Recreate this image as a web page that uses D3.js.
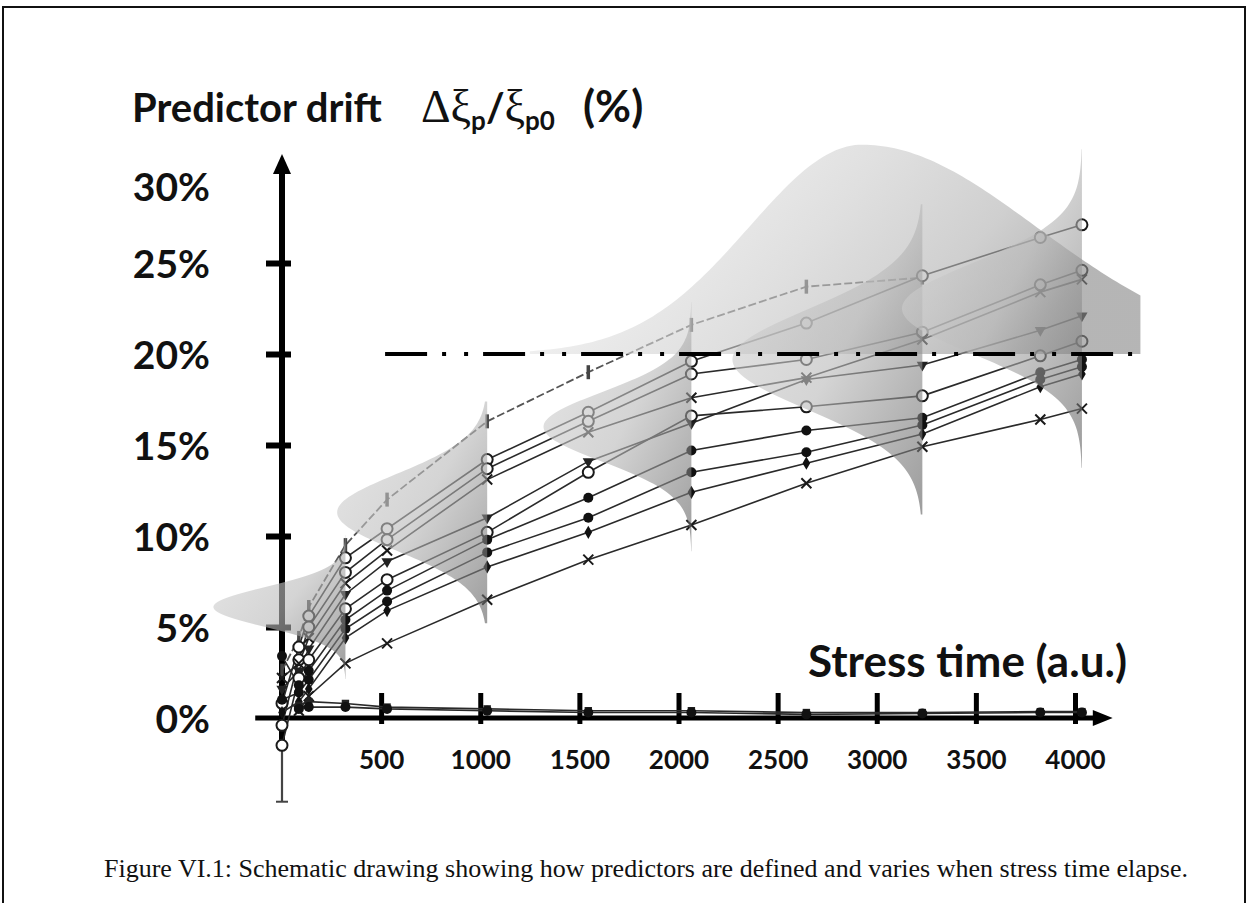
<!DOCTYPE html>
<html>
<head>
<meta charset="utf-8">
<script src="https://cdn.jsdelivr.net/npm/d3@7"></script>
<style>
  body { margin: 0; background: #fff; }
  svg { display: block; }
  .lbl { font-family: Lato, "Open Sans", sans-serif; font-weight: 700; fill: #111; }
  .greek { font-family: "Liberation Serif", "DejaVu Serif", serif; font-weight: 400; fill: #111; }
</style>
</head>
<body>
<div id="chart"></div>
<script>
var width = 1249, height = 903;

// stress times of the measurements (a.u.)
var times = [0, 85, 135, 320, 530, 1035, 1545, 2065, 2645, 3230, 3825, 4035];

// predictor drift (%) of each device, null = no point
var drift1  = [2.6, 4.4, 6.1, 9.5, 12.0, 16.3, 19.0, 21.6, 23.7, 24.2, null, null];
var drift2  = [0.8, 3.9, 5.6, 8.8, 10.4, 14.2, 16.8, 19.6, 21.7, 24.3, 26.4, 27.1];
var drift3  = [-0.4, 3.2, 5.0, 8.0, 9.8, 13.7, 16.3, 18.9, 19.7, 21.2, 23.8, 24.6];
var drift4  = [2.2, 3.0, 4.4, 7.4, 9.2, 13.1, 15.7, 17.6, 18.7, 20.8, 23.4, 24.1];
var drift5  = [1.6, 2.6, 3.8, 6.8, 8.6, 11.0, 14.1, 16.2, 18.6, 19.4, 21.3, 22.1];
var drift6  = [-1.5, 2.2, 3.2, 6.0, 7.6, 10.2, 13.5, 16.6, 17.1, 17.7, 19.9, 20.7];
var drift7  = [3.4, 1.8, 2.6, 5.4, 7.0, 9.8, 12.1, 14.7, 15.8, 16.5, 19.0, 19.7];
var drift8  = [1.0, 1.4, 2.1, 4.9, 6.4, 9.1, 11.0, 13.5, 14.6, 16.1, 18.6, 19.3];
var drift9  = [0.3, 0.9, 1.6, 4.4, 5.9, 8.3, 10.2, 12.4, 14.0, 15.6, 18.2, 18.9];
var drift10 = [null, 0.4, 1.2, 3.0, 4.1, 6.5, 8.7, 10.6, 12.9, 14.9, 16.4, 17.0];
var drift11 = [null, 0.7, 0.9, 0.8, 0.6, 0.5, 0.4, 0.4, 0.3, 0.3, 0.35, 0.35];
var drift12 = [null, 0.5, 0.6, 0.6, 0.5, 0.4, 0.3, 0.3, 0.2, 0.25, 0.3, 0.3];

var xTicks = [500, 1000, 1500, 2000, 2500, 3000, 3500, 4000];
var yTicks = [0, 5, 10, 15, 20, 25, 30];

// drift distributions sketched at some stress times
var bellTimes  = [320, 1035, 2065, 3230, 4035];
var bellMeans  = [6.1, 11.3, 16.0, 19.7, 22.5];
var bellSds    = [1.1, 2.1, 1.9, 2.75, 2.5];
var bellHeight = [666, 757, 746, 958, 908];   // peak length, in stress time units
var bellSpan   = [3.6, 2.9, 3.6, 3.1, 3.5];   // tails, in sd

// time-to-failure distribution on the 20% criterion
var failLimit = 20;
var failPeak = 2926, failHeight = 11.5, failSdLeft = 570, failSdRight = 880;
var failRange = [1250, 4330];

var series = [
  { values: drift1,  marker: "bar" },
  { values: drift2,  marker: "open" },
  { values: drift3,  marker: "open" },
  { values: drift4,  marker: "cross" },
  { values: drift5,  marker: "tri" },
  { values: drift6,  marker: "open" },
  { values: drift7,  marker: "filled" },
  { values: drift8,  marker: "filled" },
  { values: drift9,  marker: "diamond" },
  { values: drift10, marker: "cross" },
  { values: drift11, marker: "square" },
  { values: drift12, marker: "filled" }
];

var xScale = d3.scaleLinear().domain([0, 4000]).range([282, 1075]);
var yScale = d3.scaleLinear().domain([0, 30]).range([718, 172]);

var svg = d3.select("#chart").append("svg")
    .attr("width", width)
    .attr("height", height);

var defs = svg.append("defs");

var bellGrad = defs.append("linearGradient").attr("id", "bellGrad")
    .attr("x1", 0).attr("y1", 0.1).attr("x2", 1).attr("y2", 1);
bellGrad.append("stop").attr("offset", 0).attr("stop-color", "#d6d6d6");
bellGrad.append("stop").attr("offset", 0.5).attr("stop-color", "#bababa");
bellGrad.append("stop").attr("offset", 1).attr("stop-color", "#606060");

var humpGrad = defs.append("linearGradient").attr("id", "humpGrad")
    .attr("x1", 0).attr("y1", 0).attr("x2", 1).attr("y2", 0.3);
humpGrad.append("stop").attr("offset", 0).attr("stop-color", "#ffffff");
humpGrad.append("stop").attr("offset", 0.3).attr("stop-color", "#e2e2e2");
humpGrad.append("stop").attr("offset", 0.55).attr("stop-color", "#cccccc");
humpGrad.append("stop").attr("offset", 0.8).attr("stop-color", "#b2b2b2");
humpGrad.append("stop").attr("offset", 1).attr("stop-color", "#888888");

// frame
svg.append("path")
    .attr("d", "M3," + height + "V7H1245V" + height)
    .attr("fill", "none").attr("stroke", "#111").attr("stroke-width", 2);

// Axes
var y0 = yScale(0), x0 = xScale(0);

svg.append("line")
    .attr("x1", xScale(-135)).attr("x2", xScale(4100))
    .attr("y1", y0).attr("y2", y0)
    .attr("stroke", "#000").attr("stroke-width", 5);
svg.append("path")
    .attr("d", "M" + xScale(4090) + "," + (y0 - 8) + "L" + xScale(4190) + "," + y0 + "L" + xScale(4090) + "," + (y0 + 8) + "Z")
    .attr("fill", "#000");

svg.append("line")
    .attr("x1", x0).attr("x2", x0)
    .attr("y1", yScale(30) - 2).attr("y2", yScale(-1.6))
    .attr("stroke", "#000").attr("stroke-width", 6);
svg.append("line")
    .attr("x1", x0).attr("x2", x0)
    .attr("y1", yScale(-1.6)).attr("y2", yScale(-4.6))
    .attr("stroke", "#444").attr("stroke-width", 2.2);
svg.append("line")
    .attr("x1", x0 - 6).attr("x2", x0 + 6)
    .attr("y1", yScale(-4.6)).attr("y2", yScale(-4.6))
    .attr("stroke", "#444").attr("stroke-width", 2);
svg.append("path")
    .attr("d", "M" + (x0 - 9) + "," + (yScale(30) + 2) + "L" + x0 + "," + (yScale(30) - 18) + "L" + (x0 + 9) + "," + (yScale(30) + 2) + "Z")
    .attr("fill", "#000");

var xAxis = d3.axisBottom(xScale).tickValues(xTicks).tickSize(0).tickPadding(0)
    .tickFormat(d3.format("d"));
var gx = svg.append("g")
    .attr("transform", "translate(0," + y0 + ")")
    .call(xAxis);
gx.select(".domain").remove();
gx.selectAll(".tick line")
    .attr("y1", -25).attr("y2", 6)
    .attr("stroke", "#000").attr("stroke-width", 5);
gx.selectAll(".tick text")
    .attr("class", "lbl")
    .attr("y", 51).attr("dy", null)
    .style("font-size", "26px");

var yAxis = d3.axisLeft(yScale).tickValues(yTicks).tickSize(0).tickPadding(0)
    .tickFormat(function(d) { return d + "%"; });
var gy = svg.append("g")
    .attr("transform", "translate(" + x0 + ",0)")
    .call(yAxis);
gy.select(".domain").remove();
gy.selectAll(".tick line")
    .attr("x1", -16).attr("x2", 9)
    .attr("stroke", "#000").attr("stroke-width", 6)
    .style("display", function(d) { return d === 0 || d === 30 ? "none" : null; });
gy.selectAll(".tick text")
    .attr("class", "lbl")
    .attr("x", 210 - x0)
    .attr("dy", function(d) { return d === 30 ? "0.72em" : "0.36em"; })
    .style("font-size", "39px")
    .style("text-anchor", "end");

// Lines and markers
var line = d3.line()
    .defined(function(d) { return d.v !== null; })
    .x(function(d) { return xScale(d.t); })
    .y(function(d) { return yScale(d.v); });

series.forEach(function(s) {
  s.points = times.map(function(t, i) { return { t: t, v: s.values[i] }; });
});

svg.append("g").selectAll("path")
    .data(series)
    .enter().append("path")
    .attr("d", function(d) { return line(d.points); })
    .attr("fill", "none")
    .attr("stroke", function(d) { return d.marker === "bar" ? "#555" : "#2a2a2a"; })
    .attr("stroke-width", function(d) { return d.marker === "bar" ? 1.8 : 1.6; })
    .attr("stroke-dasharray", function(d) { return d.marker === "bar" ? "8,3" : null; });

var markers = svg.append("g");
series.forEach(function(s) {
  var pts = s.points.filter(function(p) { return p.v !== null; });
  var g = markers.selectAll(null).data(pts).enter().append("g")
      .attr("transform", function(p) { return "translate(" + xScale(p.t) + "," + yScale(p.v) + ")"; });
  if (s.marker === "open") {
    g.append("circle").attr("r", 5.5).attr("fill", "#fff").attr("stroke", "#1a1a1a").attr("stroke-width", 2);
  } else if (s.marker === "filled") {
    g.append("circle").attr("r", 5).attr("fill", "#111");
  } else if (s.marker === "cross") {
    g.append("path").attr("d", "M-5,-5L5,5M-5,5L5,-5").attr("stroke", "#1a1a1a").attr("stroke-width", 2);
  } else if (s.marker === "tri") {
    g.append("path").attr("d", d3.symbol(d3.symbolTriangle, 55)).attr("transform", "rotate(180)").attr("fill", "#222");
  } else if (s.marker === "diamond") {
    g.append("path").attr("d", d3.symbol(d3.symbolDiamond, 50)).attr("fill", "#111");
  } else if (s.marker === "square") {
    g.append("path").attr("d", d3.symbol(d3.symbolSquare, 55)).attr("fill", "#222");
  } else if (s.marker === "bar") {
    g.append("line").attr("y1", -7).attr("y2", 7).attr("stroke", "#444").attr("stroke-width", 3.5);
  }
});

// Distribution shapes, laid over the data like in the sketch
var shapes = svg.append("g").attr("fill-opacity", 0.62);

var hump = d3.range(failRange[0], failRange[1] + 1, 20).map(function(t) {
  var sd = t < failPeak ? failSdLeft : failSdRight;
  var z = (t - failPeak) / sd;
  return { t: t, h: failHeight * Math.exp(-z * z / 2) };
});
shapes.append("path")
    .attr("d", d3.area()
        .x(function(d) { return xScale(d.t); })
        .y0(yScale(failLimit))
        .y1(function(d) { return yScale(failLimit + d.h); })(hump))
    .attr("fill", "url(#humpGrad)");

var bellArea = d3.area()
    .y(function(d) { return yScale(d.v); })
    .x0(function(d) { return xScale(d.t); })
    .x1(function(d) { return xScale(d.t - d.len); });

bellTimes.forEach(function(bt, i) {
  var k = bellSpan[i];
  var pts = d3.range(-k, k + 0.001, 0.05).map(function(z) {
    return { t: bt, v: bellMeans[i] + z * bellSds[i], len: bellHeight[i] * Math.exp(-z * z / 2) };
  });
  shapes.append("path")
      .attr("d", bellArea(pts))
      .attr("fill", "url(#bellGrad)");
});

// 20% failure criterion
svg.append("line")
    .attr("x1", xScale(520)).attr("x2", xScale(4330))
    .attr("y1", yScale(failLimit)).attr("y2", yScale(failLimit))
    .attr("stroke", "#000").attr("stroke-width", 4)
    .attr("stroke-dasharray", "42,15,4,18,4,15");

// Titles
svg.append("text").attr("class", "lbl")
    .attr("x", 132).attr("y", 122)
    .style("font-size", "40px")
    .text("Predictor drift");

var f = svg.append("text").attr("x", 421).attr("y", 122).style("font-size", "46px");
f.append("tspan").attr("class", "greek").text("\u0394\u03BE");
f.append("tspan").attr("class", "lbl").attr("dy", 8).style("font-size", "26px").text("p");
f.append("tspan").attr("class", "lbl").attr("dy", -8).style("font-size", "40px").text("/");
f.append("tspan").attr("class", "greek").text("\u03BE");
f.append("tspan").attr("class", "lbl").attr("dy", 8).style("font-size", "26px").text("p0");
f.append("tspan").attr("class", "lbl").attr("x", 583).attr("dy", -8).style("font-size", "44px").text("(%)");

svg.append("text").attr("class", "lbl")
    .attr("x", 1127).attr("y", 677)
    .style("font-size", "44px")
    .style("text-anchor", "end")
    .text("Stress time (a.u.)");

svg.append("text")
    .attr("x", 104).attr("y", 877)
    .style("font-family", "'Liberation Serif', 'Times New Roman', serif")
    .style("font-size", "26px")
    .style("fill", "#111")
    .text("Figure VI.1: Schematic drawing showing how predictors are defined and varies when stress time elapse.");
</script>
</body>
</html>
